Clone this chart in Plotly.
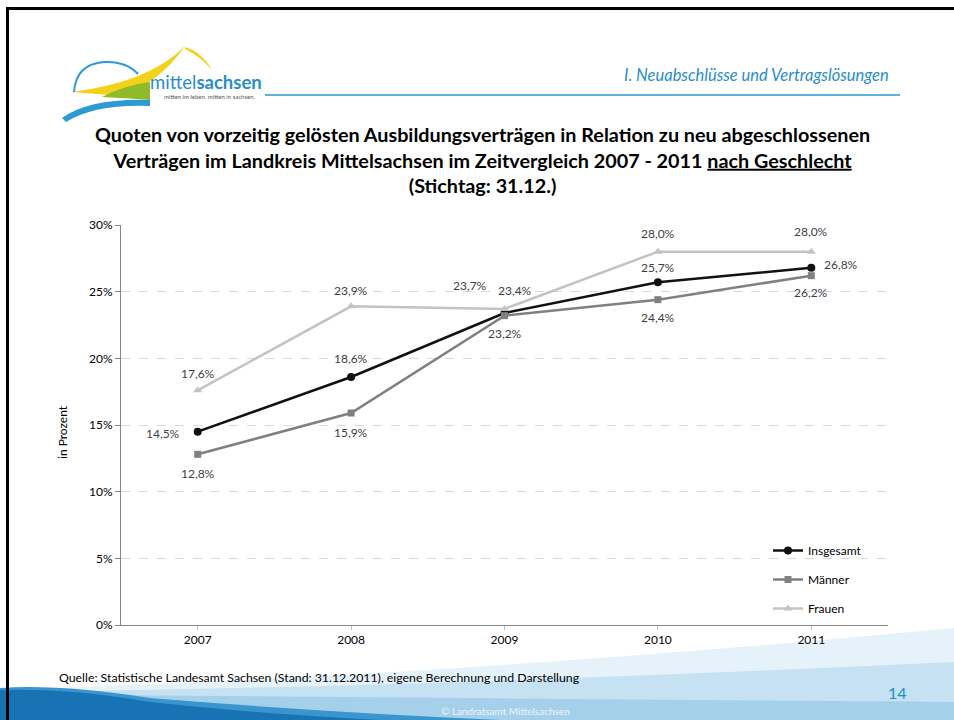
import plotly.graph_objects as go

years = ["2007", "2008", "2009", "2010", "2011"]
insgesamt = [14.5, 18.6, 23.4, 25.7, 26.8]
maenner = [12.8, 15.9, 23.2, 24.4, 26.2]
frauen = [17.6, 23.9, 23.7, 28.0, 28.0]
y_ticks = [0, 5, 10, 15, 20, 25, 30]

# label offsets (pixels) per point
off_ins = [(-35, -2), (0, 19), (10, 23), (0, 15), (30, 3)]
off_men = [(0, -19), (0, -19), (0, -18), (0, -18), (0, -17)]
off_fra = [(0, 17), (0, 16), (-35, 24), (0, 18), (0, 20)]

W, H = 954, 720
L, R, T, B = 121, 888, 225, 625


def px(x):
    return (x - L) / (R - L)


def py(y):
    return (B - y) / (B - T)


def path(pts_cmds):
    out = []
    for c in pts_cmds:
        if isinstance(c, str):
            out.append(c)
        else:
            out.append(f"{px(c[0]):.4f},{py(c[1]):.4f}")
    return " ".join(out)


FONT = "Lato"
lab_font = dict(family=FONT, size=12, color="#404040")

fig = go.Figure()
fig.add_trace(go.Scatter(
    x=years, y=insgesamt, name="Insgesamt", mode="lines+markers",
    line=dict(color="#111111", width=2.5),
    marker=dict(symbol="circle", size=8, color="#111111"),
    legendgroup="a", cliponaxis=False))
fig.add_trace(go.Scatter(
    x=years, y=maenner, name="Männer", mode="lines+markers",
    line=dict(color="#808080", width=2.5),
    marker=dict(symbol="square", size=7, color="#808080"),
    legendgroup="b", cliponaxis=False))
fig.add_trace(go.Scatter(
    x=years, y=frauen, name="Frauen", mode="lines+markers",
    line=dict(color="#c3c3c3", width=2.5),
    marker=dict(symbol="triangle-up", size=8, color="#c3c3c3"),
    legendgroup="c", cliponaxis=False))

annotations = []
for vals, offs in ((insgesamt, off_ins), (maenner, off_men), (frauen, off_fra)):
    for i, (v, (dx, dy)) in enumerate(zip(vals, offs)):
        annotations.append(dict(
            x=i, y=v, xref="x", yref="y", text=f"{v:.1f}%".replace(".", ","),
            showarrow=False, xshift=dx, yshift=dy, font=lab_font,
            xanchor="center", yanchor="middle"))

shapes = []
# bottom swoosh
shapes.append(dict(type="path", xref="paper", yref="paper",
                   path=path(["M", (0, 720), "L", (0, 690), "Q", (450, 676), (954, 628), "L", (954, 720), "Z"]),
                   fillcolor="#e6f2f9", line=dict(width=0), layer="below"))
shapes.append(dict(type="path", xref="paper", yref="paper",
                   path=path(["M", (0, 720), "L", (0, 692), "Q", (400, 688), (954, 662), "L", (954, 720), "Z"]),
                   fillcolor="#c6e1f1", line=dict(width=0), layer="below"))
shapes.append(dict(type="path", xref="paper", yref="paper",
                   path=path(["M", (0, 720), "L", (0, 694), "Q", (300, 697), (954, 702), "L", (954, 720), "Z"]),
                   fillcolor="#a5d0ea", line=dict(width=0), layer="below"))
shapes.append(dict(type="path", xref="paper", yref="paper",
                   path=path(["M", (0, 720), "L", (0, 688), "Q", (60, 684), (150, 698), "Q", (320, 712), (500, 720), "Z"]),
                   fillcolor="#3a95cf", line=dict(width=0), layer="below"))
shapes.append(dict(type="path", xref="paper", yref="paper",
                   path=path(["M", (0, 720), "L", (0, 690), "Q", (70, 688), (150, 702), "Q", (260, 714), (380, 720), "Z"]),
                   fillcolor="#1873b4", line=dict(width=0), layer="below"))
# header line
shapes.append(dict(type="line", xref="paper", yref="paper",
                   x0=px(265), x1=px(900), y0=py(95), y1=py(95),
                   line=dict(color="#5fb3d8", width=2)))
# logo shapes
shapes.append(dict(type="path", xref="paper", yref="paper",
                   path=path(["M", (72, 92), "Q", (150, 82), (185, 46), "Q", (160, 82), (122, 96), "Z"]),
                   fillcolor="#f2d21b", line=dict(width=0)))
shapes.append(dict(type="path", xref="paper", yref="paper",
                   path=path(["M", (185, 47), "Q", (202, 52), (212, 70), "Q", (200, 56), (185, 49), "Z"]),
                   fillcolor="#f2d21b", line=dict(width=0)))
shapes.append(dict(type="path", xref="paper", yref="paper",
                   path=path(["M", (102, 97), "Q", (125, 85), (150, 82), "L", (150, 100), "Q", (125, 98), (102, 97), "Z"]),
                   fillcolor="#8dbb2a", line=dict(width=0)))
shapes.append(dict(type="path", xref="paper", yref="paper",
                   path=path(["M", (74, 92), "Q", (76, 64), (104, 62), "Q", (126, 61), (138, 74)]),
                   line=dict(color="#2e9ad4", width=2)))
shapes.append(dict(type="path", xref="paper", yref="paper",
                   path=path(["M", (62, 118), "Q", (90, 98), (150, 100), "L", (150, 106), "Q", (95, 104), (66, 122), "Z"]),
                   fillcolor="#2e9ad4", line=dict(width=0)))
# slide frame (top and left edges)
shapes.append(dict(type="line", xref="paper", yref="paper",
                   x0=px(6), x1=px(954), y0=py(8.5), y1=py(8.5),
                   line=dict(color="#000000", width=3)))
shapes.append(dict(type="line", xref="paper", yref="paper",
                   x0=px(7.5), x1=px(7.5), y0=py(7), y1=py(720),
                   line=dict(color="#000000", width=3)))

annotations += [
    dict(text="<b>Quoten von vorzeitig gelösten Ausbildungsverträgen in Relation zu neu abgeschlossenen<br>"
              "Verträgen im Landkreis Mittelsachsen im Zeitvergleich 2007 - 2011 <u>nach Geschlecht</u><br>"
              "(Stichtag: 31.12.)</b>",
         x=px(482), y=py(160), xref="paper", yref="paper", showarrow=False,
         font=dict(family=FONT, size=19.8, color="#000000"), align="center", xanchor="center", yanchor="middle"),
    dict(text="<i>I. Neuabschlüsse und Vertragslösungen</i>", x=px(891), y=py(75), xref="paper", yref="paper",
         showarrow=False, xanchor="right", yanchor="middle",
         font=dict(family=FONT, size=16.5, color="#2a8ccc")),
    dict(text="mittel<b>sachsen</b>", x=px(148), y=py(82), xref="paper", yref="paper", showarrow=False,
         xanchor="left", yanchor="middle", font=dict(family=FONT, size=18.5, color="#2a8ccc")),
    dict(text="mitten im leben. mitten in sachsen.", x=px(258), y=py(97), xref="paper", yref="paper",
         showarrow=False, xanchor="right", yanchor="middle", font=dict(family=FONT, size=6, color="#555555")),
    dict(text="in Prozent", x=px(62), y=py(432), xref="paper", yref="paper", showarrow=False,
         textangle=-90, xanchor="center", yanchor="middle", font=dict(family=FONT, size=12, color="#000000")),
    dict(text="Quelle: Statistische Landesamt Sachsen (Stand: 31.12.2011), eigene Berechnung und Darstellung",
         x=px(57), y=py(677), xref="paper", yref="paper", showarrow=False, xanchor="left", yanchor="middle",
         font=dict(family=FONT, size=12.3, color="#000000")),
    dict(text="14", x=px(897), y=py(692), xref="paper", yref="paper", showarrow=False,
         xanchor="center", yanchor="middle", font=dict(family=FONT, size=16, color="#1f8fc7")),
    dict(text="© Landratsamt Mittelsachsen", x=px(505), y=py(711), xref="paper", yref="paper", showarrow=False,
         xanchor="center", yanchor="middle", font=dict(family=FONT, size=10, color="#eaf4fb")),
]

fig.update_layout(
    width=W, height=H,
    margin=dict(l=L, r=W - R, t=T, b=H - B, pad=0),
    paper_bgcolor="white", plot_bgcolor="white",
    separators=",.",
    font=dict(family=FONT, size=12, color="#000000"),
    showlegend=True,
    legend=dict(x=px(768), y=py(536), xanchor="left", yanchor="top",
                bgcolor="rgba(0,0,0,0)", font=dict(family=FONT, size=12, color="#000000"),
                tracegroupgap=10, itemwidth=30),
    shapes=shapes, annotations=annotations,
)
fig.update_xaxes(
    type="category", range=[-0.5, 4.5], showgrid=False,
    showline=True, linecolor="#868686", linewidth=1,
    ticks="outside", ticklen=4, tickcolor="#bfbfbf",
    tickfont=dict(family=FONT, size=12, color="#000000"),
)
fig.update_yaxes(
    range=[0, 30], tickvals=y_ticks, ticktext=[f"{v}%" for v in y_ticks],
    showgrid=True, gridcolor="#d9d9d9", griddash="dash", gridwidth=1,
    showline=True, linecolor="#868686", linewidth=1,
    ticks="outside", ticklen=5, tickcolor="#868686",
    tickfont=dict(family=FONT, size=12, color="#000000"), zeroline=False,
)

fig.write_html("out.html", config={"displayModeBar": False},
               post_script="document.body.style.margin='0';document.body.style.overflow='hidden';")
